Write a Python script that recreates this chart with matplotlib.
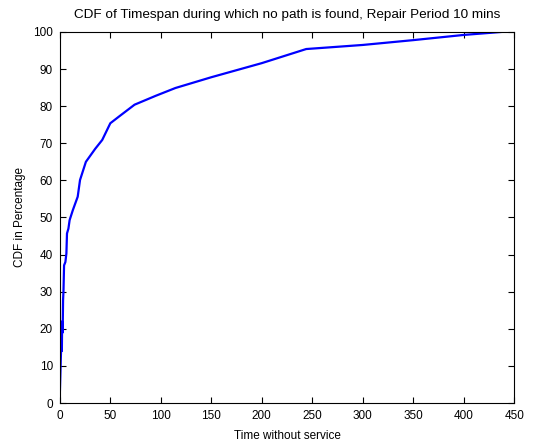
import matplotlib
matplotlib.use("Agg")
import matplotlib.pyplot as plt

# CDF curve
time_vals = [0, 1, 1.6, 2.0, 2.3, 2.8, 3.2, 3.6, 4.2, 5.5, 6.5, 7.1, 8.5, 9.7,
             12.9, 17.7, 20, 25.8, 35, 42, 50, 60, 74, 95, 114.5, 150,
             200, 244, 300, 350, 400, 437]
cdf_vals = [2.4, 12.3, 16.8, 14, 22, 19, 27.7, 30, 37.1, 38, 40.3, 45.7, 47, 49.3,
            52, 55.6, 60.1, 65, 68.5, 70.9, 75.4, 77.5, 80.4, 82.8, 84.9, 87.8,
            91.6, 95.4, 96.5, 97.8, 99.2, 100]

x_ticks = list(range(0, 451, 50))
y_ticks = list(range(0, 101, 10))

plt.rcParams['font.family'] = ['Liberation Sans', 'DejaVu Sans']
plt.rcParams['font.size'] = 8.5

fig = plt.figure(figsize=(5.39, 4.44), dpi=100)
ax = fig.add_axes([0.111, 0.0923, 0.843, 0.8357])

ax.plot(time_vals, cdf_vals, color='blue', linewidth=1.6)

ax.set_xlim(0, 450)
ax.set_ylim(0, 100)
ax.set_xticks(x_ticks)
ax.set_yticks(y_ticks)
ax.tick_params(direction='in', top=True, right=True, length=4, width=0.8, pad=5)
for spine in ax.spines.values():
    spine.set_linewidth(0.8)

ax.set_title("CDF of Timespan during which no path is found, Repair Period 10 mins",
             fontsize=9.7, pad=10)
ax.set_xlabel("Time without service", labelpad=6)
ax.set_ylabel("CDF in Percentage", labelpad=5)

fig.savefig("out.png", dpi=100)
